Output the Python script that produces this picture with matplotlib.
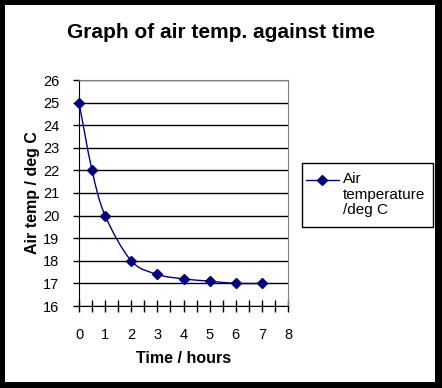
import numpy as np
import matplotlib
matplotlib.use("Agg")
from matplotlib import pyplot as plt
from matplotlib.path import Path
from matplotlib.patches import PathPatch, Rectangle
from matplotlib.lines import Line2D

plt.rcParams["font.family"] = ["Liberation Sans", "DejaVu Sans"]

time_hours = [0, 0.5, 1, 2, 3, 4, 5, 6, 7]
air_temp = [25, 22, 20, 18, 17.4, 17.2, 17.1, 17, 17]
series_label = "Air\ntemperature\n/deg C"
line_color = "#000080"


def smooth_path(x, y):
    # excel style smoothed line: catmull-rom as cubic bezier segments
    pts = np.column_stack([x, y]).astype(float)
    verts = [pts[0]]
    codes = [Path.MOVETO]
    n = len(pts)
    for i in range(n - 1):
        p0 = pts[max(i - 1, 0)]
        p1 = pts[i]
        p2 = pts[i + 1]
        p3 = pts[min(i + 2, n - 1)]
        c1 = p1 + (p2 - p0) / 6
        c2 = p2 - (p3 - p1) / 6
        verts += [c1, c2, p2]
        codes += [Path.CURVE4] * 3
    return Path(verts, codes)


fig = plt.figure(figsize=(4.42, 3.88), dpi=100)
W, H = 442, 388


def px(x, y):
    # pixel position (from top left) to figure fraction
    return x / W, 1 - y / H


ax = fig.add_axes([79 / W, 1 - 306 / H, (288 - 79) / W, (306 - 80) / H])

ax.set_xlim(0, 8)
ax.set_ylim(16, 26)
ax.set_yticks(range(16, 27))
ax.set_xticks(range(0, 9))
ax.set_xticks(np.arange(0.5, 8, 1), minor=True)
ax.yaxis.grid(True, color="black", linewidth=1)
ax.set_axisbelow(True)

for side in ["top", "right"]:
    ax.spines[side].set_color("#808080")
for side in ["left", "bottom"]:
    ax.spines[side].set_color("black")

ax.tick_params(axis="x", which="both", direction="inout", length=8, width=1,
               labelsize=10.5, pad=12)
ax.tick_params(axis="y", direction="out", length=4, width=1, labelsize=10.5, pad=10)

patch = PathPatch(smooth_path(time_hours, air_temp), facecolor="none",
                  edgecolor=line_color, linewidth=1, transform=ax.transData,
                  clip_on=False)
ax.add_patch(patch)
ax.plot(time_hours, air_temp, linestyle="none", marker="D", markersize=5,
        color=line_color, clip_on=False, zorder=5)

ax.set_xlabel("Time / hours", fontsize=11.5, fontweight="bold", labelpad=6)
ax.set_ylabel("Air temp / deg C", fontsize=11.5, fontweight="bold", labelpad=2)
fig.text(*px(221, 33), "Graph of air temp. against time", ha="center",
         va="center", fontsize=15, fontweight="bold")

# legend drawn by hand so the key sits beside the first line of text
lx0, ly0, lx1, ly1 = 302, 163, 433, 227
fig.add_artist(Rectangle(px(lx0, ly1), (lx1 - lx0) / W, (ly1 - ly0) / H,
                         transform=fig.transFigure, facecolor="white",
                         edgecolor="black", lw=1))
key_y = 1 - 180 / H
fig.add_artist(Line2D([306 / W, 339 / W], [key_y, key_y], color=line_color,
                      linewidth=1, transform=fig.transFigure))
fig.add_artist(Line2D([322 / W], [key_y], color=line_color, marker="D",
                      markersize=5, transform=fig.transFigure))
fig.text(*px(343, 172), series_label, ha="left", va="top", fontsize=11,
         linespacing=1.15)

# black frame round the picture
for x0, y0, w, h in [(0, 0, 5, H), (W - 7, 0, 7, H), (0, 0, W, 6), (0, H - 5, W, 5)]:
    fig.add_artist(Rectangle((x0 / W, y0 / H), w / W, h / H,
                             transform=fig.transFigure, color="black", lw=0))

fig.savefig("out.png", dpi=100)
